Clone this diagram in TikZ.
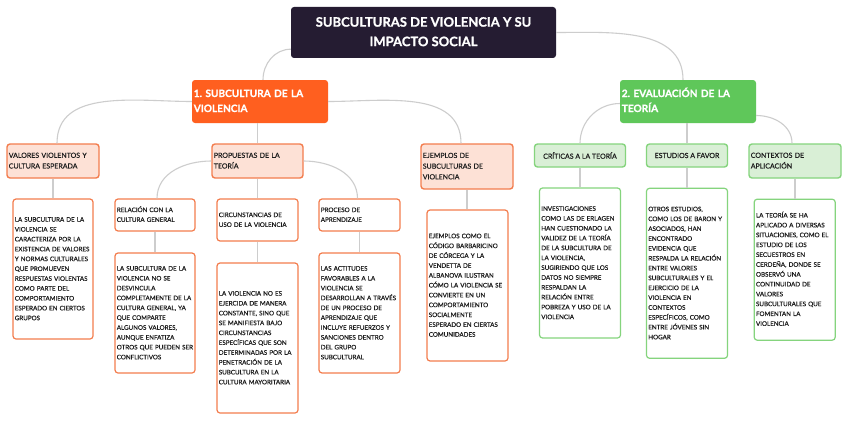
\documentclass[tikz,border=0pt]{standalone}
\usepackage{fontspec}
\setmainfont{Lato}
\newfontfamily\medfont{Lato}[FakeBold=0.5]
\newfontfamily\heavyfont{Lato}[BoldFeatures={FakeBold=0.9}]
\definecolor{titlebg}{HTML}{251C32}
\definecolor{orng}{HTML}{FF5F1F}
\definecolor{grn}{HTML}{5FC75A}
\definecolor{olt}{HTML}{FDE1D6}
\definecolor{obd}{HTML}{F37D4E}
\definecolor{glt}{HTML}{D9EFD6}
\definecolor{gbd}{HTML}{85D47D}
\definecolor{lineg}{HTML}{CDCDCD}
\definecolor{txt}{HTML}{1E1E1E}
\newcommand\fleaf{\medfont\fontsize{6.25}{9.85}\selectfont}
\newcommand\fmid{\medfont\fontsize{7.0}{10.7}\selectfont}
\newcommand\fbig{\heavyfont\fontsize{10.1}{15}\selectfont\bfseries}
\newcommand\ftitle{\heavyfont\fontsize{13}{19.5}\selectfont\bfseries}
\newcommand\mylines[1]{\begin{tabular}{@{}l@{}}#1\end{tabular}}
\frenchspacing
\tikzset{
  conn/.style={draw=lineg, line width=1.1pt},
  box/.style 2 args={rectangle, rounded corners=3pt, minimum width=#1pt, minimum height=#2pt, inner xsep=1.8pt, inner ysep=0pt},
  lbox/.style 2 args={box={#1}{#2}, text width={#1pt-3.6pt}, align=left},
  cbox/.style 2 args={box={#1}{#2}, align=center},
  titlestyle/.style={fill=titlebg, text=white, font=\ftitle},
  mainor/.style={fill=orng, text=white, font=\fbig},
  maingr/.style={fill=grn, text=white, font=\fbig},
  subor/.style={fill=olt, draw=obd, line width=1.4pt, text=txt, font=\fmid},
  subgr/.style={fill=glt, draw=gbd, line width=1.4pt, text=txt, font=\fmid},
  l3or/.style={fill=white, draw=obd, line width=1.2pt, text=txt, font=\fleaf},
  leafor/.style={fill=white, draw=obd, line width=1.2pt, text=txt, font=\fleaf},
  leafgr/.style={fill=white, draw=gbd, line width=1.2pt, text=txt, font=\fleaf},
}
\begin{document}
\begin{tikzpicture}[x=1pt, y=-1pt]
\useasboundingbox[fill=white] (0,0) rectangle (848,420);

% top
\node[cbox={265}{51}, titlestyle] (title) at (423.5,32.5) {\raisebox{-1.5pt}{\begin{tabular}{@{}c@{}}SUBCULTURAS DE VIOLENCIA Y SU\\IMPACTO SOCIAL\end{tabular}}};
\node[lbox={136}{43}, mainor] (b1) at (260,101.5) {\mylines{1. SUBCULTURA DE LA\\VIOLENCIA}};
\node[lbox={136}{43}, maingr] (b2) at (688,101.5) {\mylines{2. EVALUACIÓN DE LA\\TEORÍA}};

% level 2
\node[lbox={92}{34}, subor] (val) at (53,161) {\mylines{VALORES VIOLENTOS Y\\CULTURA ESPERADA}};
\node[lbox={91}{34}, subor] (prop) at (257.5,161) {\mylines{PROPUESTAS DE LA\\TEORÍA}};
\node[lbox={92}{45}, subor] (ejem) at (467,166.5) {\mylines{EJEMPLOS DE\\SUBCULTURAS DE\\VIOLENCIA}};
\node[cbox={91}{23}, subgr] (cri) at (580,155.5) {CRÍTICAS A LA TEORÍA};
\node[cbox={81}{23}, subgr] (est) at (687,155.5) {ESTUDIOS A FAVOR};
\node[lbox={92}{34}, subgr] (con) at (795,161) {\mylines{CONTEXTOS DE\\APLICACIÓN}};

% level 3
\node[lbox={80}{32}, l3or] (rel) at (155,215) {\mylines{RELACIÓN CON LA\\CULTURA GENERAL}};
\node[lbox={81}{42}, l3or] (cir) at (257.5,220) {\mylines{CIRCUNSTANCIAS DE\\USO DE LA VIOLENCIA}};
\node[lbox={81}{32}, l3or] (pro) at (359.5,215) {\mylines{PROCESO DE\\APRENDIZAJE}};

% leaves
\node[lbox={80}{140}, leafor] (lval) at (53,269) {\mylines{LA SUBCULTURA DE LA\\VIOLENCIA SE\\CARACTERIZA POR LA\\EXISTENCIA DE VALORES\\Y NORMAS CULTURALES\\QUE PROMUEVEN\\RESPUESTAS VIOLENTAS\\COMO PARTE DEL\\COMPORTAMIENTO\\ESPERADO EN CIERTOS\\GRUPOS}};
\node[lbox={80}{120}, leafor] (lrel) at (155,313) {\mylines{LA SUBCULTURA DE LA\\VIOLENCIA NO SE\\DESVINCULA\\COMPLETAMENTE DE LA\\CULTURA GENERAL, YA\\QUE COMPARTE\\ALGUNOS VALORES,\\AUNQUE ENFATIZA\\OTROS QUE PUEDEN SER\\CONFLICTIVOS}};
\node[lbox={81}{150}, leafor] (lcir) at (257.5,338) {\mylines{LA VIOLENCIA NO ES\\EJERCIDA DE MANERA\\CONSTANTE, SINO QUE\\SE MANIFIESTA BAJO\\CIRCUNSTANCIAS\\ESPECÍFICAS QUE SON\\DETERMINADAS POR LA\\PENETRACIÓN DE LA\\SUBCULTURA EN LA\\CULTURA MAYORITARIA}};
\node[lbox={81}{120}, leafor] (lpro) at (359.5,313) {\mylines{LAS ACTITUDES\\FAVORABLES A LA\\VIOLENCIA SE\\DESARROLLAN A TRAVÉS\\DE UN PROCESO DE\\APRENDIZAJE QUE\\INCLUYE REFUERZOS Y\\SANCIONES DENTRO\\DEL GRUPO\\SUBCULTURAL}};
\node[lbox={81}{151}, leafor] (leje) at (467.5,285.5) {\mylines{EJEMPLOS COMO EL\\CÓDIGO BARBARICINO\\DE CÓRCEGA Y LA\\VENDETTA DE\\ALBANOVA ILUSTRAN\\CÓMO LA VIOLENCIA SE\\CONVIERTE EN UN\\COMPORTAMIENTO\\SOCIALMENTE\\ESPERADO EN CIERTAS\\COMUNIDADES}};
\node[lbox={81}{150}, leafgr] (lcri) at (580,263) {\mylines{INVESTIGACIONES\\COMO LAS DE ERLAGEN\\HAN CUESTIONADO LA\\VALIDEZ DE LA TEORÍA\\DE LA SUBCULTURA DE\\LA VIOLENCIA,\\SUGIRIENDO QUE LOS\\DATOS NO SIEMPRE\\RESPALDAN LA\\RELACIÓN ENTRE\\POBREZA Y USO DE LA\\VIOLENCIA}};
\node[lbox={81}{170}, leafgr] (lest) at (687,273.3) {\mylines{OTROS ESTUDIOS,\\COMO LOS DE BARON Y\\ASOCIADOS, HAN\\ENCONTRADO\\EVIDENCIA QUE\\RESPALDA LA RELACIÓN\\ENTRE VALORES\\SUBCULTURALES Y EL\\EJERCICIO DE LA\\VIOLENCIA EN\\CONTEXTOS\\ESPECÍFICOS, COMO\\ENTRE JÓVENES SIN\\HOGAR}};
\node[lbox={81}{141}, leafgr] (lcon) at (794.7,269.7) {\mylines{LA TEORÍA SE HA\\APLICADO A DIVERSAS\\SITUACIONES, COMO EL\\ESTUDIO DE LOS\\SECUESTROS EN\\CERDEÑA, DONDE SE\\OBSERVÓ UNA\\CONTINUIDAD DE\\VALORES\\SUBCULTURALES QUE\\FOMENTAN LA\\VIOLENCIA}};

% connectors
\draw[conn] ([yshift=9pt]title.south west) to[out=180,in=90] ([xshift=3pt]b1.north);
\draw[conn] (title.east) to[out=0,in=90] ([xshift=-5pt]b2.north);
\draw[conn] (b1.west) to[out=180,in=90] ([xshift=4pt]val.north);
\draw[conn] (prop.north |- b1.south) -- (prop.north);
\draw[conn] (b1.east) to[out=0,in=90] ([xshift=-6pt]ejem.north);
\draw[conn] ([yshift=-2pt]b2.west) to[out=180,in=90] (cri.north);
\draw[conn] (est.north |- b2.south) -- (est.north);
\draw[conn] ([yshift=-14pt]b2.east) to[out=0,in=90] ([xshift=-3pt]con.north);
\draw[conn] (prop.west) to[out=180,in=90] ([xshift=2pt]rel.north);
\draw[conn] (prop.south) -- (cir.north);
\draw[conn] (prop.east) to[out=0,in=90] ([xshift=-2pt]pro.north);
\draw[conn] (val.south) -- (lval.north);
\draw[conn] (rel.south) -- (lrel.north);
\draw[conn] (cir.south) -- (lcir.north);
\draw[conn] (pro.south) -- (lpro.north);
\draw[conn] (ejem.south) -- (leje.north -| ejem.south);
\draw[conn] (cri.south) -- (lcri.north);
\draw[conn] (est.south) -- (lest.north);
\draw[conn] (con.south) -- (lcon.north -| con.south);
\end{tikzpicture}
\end{document}
